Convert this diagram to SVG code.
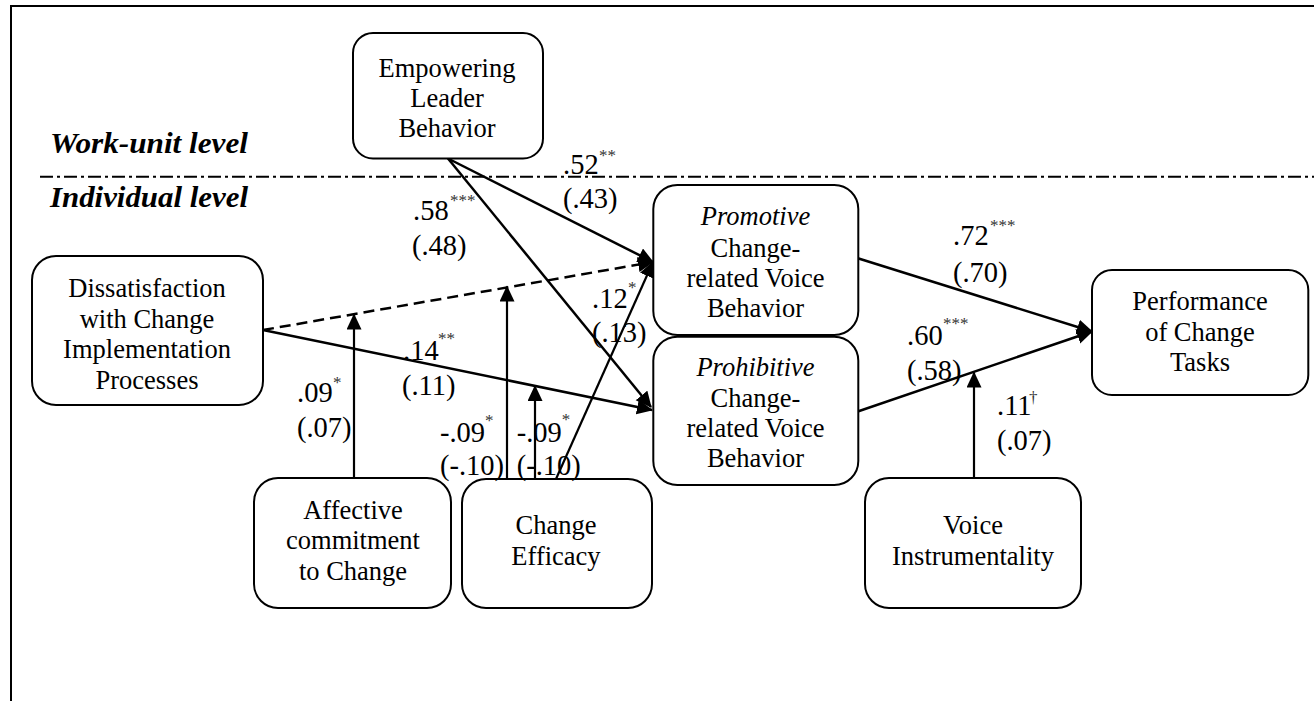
<svg xmlns="http://www.w3.org/2000/svg" width="1314" height="701" viewBox="0 0 1314 701">
<defs>
<style>
.box{fill:#fff;stroke:#000;stroke-width:2}
.nt{font-family:"Liberation Serif","Times New Roman",serif;font-size:26.5px;fill:#000;text-anchor:middle}
.it{font-style:italic}
.lv{font-family:"Liberation Serif","Times New Roman",serif;font-size:29px;font-weight:bold;font-style:italic;fill:#000}
.lb{font-family:"Liberation Serif","Times New Roman",serif;font-size:28.5px;fill:#000}
.sp{font-family:"Liberation Serif","Times New Roman",serif;font-size:17px;fill:#333}
.ln{stroke:#000;stroke-width:2.5;fill:none}
.vl{stroke:#000;stroke-width:2.2;fill:none}
</style>
<marker id="ah" markerUnits="userSpaceOnUse" markerWidth="18" markerHeight="16" refX="15" refY="7.5" orient="auto" viewBox="0 0 18 16">
<path d="M0,0 L16,7.5 L0,15 z" fill="#000"/>
</marker>
</defs>
<rect width="1314" height="701" fill="#fff"/>
<path d="M11,701 V6 H1314" fill="none" stroke="#000" stroke-width="2"/>
<line x1="40" y1="176.7" x2="1314" y2="176.7" stroke="#000" stroke-width="2" stroke-dasharray="13 4 3 4"/>
<text class="lv" x="50" y="153" textLength="198" lengthAdjust="spacingAndGlyphs">Work-unit level</text>
<text class="lv" x="50" y="207" textLength="198" lengthAdjust="spacingAndGlyphs">Individual level</text>

<g id="connectors">
<line class="ln" x1="448" y1="158.5" x2="653" y2="262" marker-end="url(#ah)"/>
<line class="ln" x1="448" y1="158.5" x2="651" y2="407" marker-end="url(#ah)"/>
<line class="ln" x1="263" y1="330" x2="653" y2="262" stroke-dasharray="11 6" marker-end="url(#ah)"/>
<line class="ln" x1="263" y1="330" x2="652" y2="410" marker-end="url(#ah)"/>
<line class="vl" x1="354" y1="478" x2="354" y2="314.5" marker-end="url(#ah)"/>
<line class="vl" x1="507" y1="479" x2="507" y2="286.5" marker-end="url(#ah)"/>
<line class="vl" x1="535" y1="479" x2="535" y2="386" marker-end="url(#ah)"/>
<line class="vl" x1="556" y1="479" x2="653" y2="262" marker-end="url(#ah)"/>
<line class="ln" x1="857" y1="258" x2="1092" y2="331.5" marker-end="url(#ah)"/>
<line class="ln" x1="857" y1="411.7" x2="1092" y2="331.5" marker-end="url(#ah)"/>
<line class="vl" x1="974" y1="478" x2="974" y2="372.5" marker-end="url(#ah)"/>
</g>

<g id="empowering">
<rect class="box" x="353" y="33" width="190" height="125.5" rx="20"/>
<text class="nt" x="447" y="76.7">Empowering</text>
<text class="nt" x="447" y="106.7">Leader</text>
<text class="nt" x="447" y="136.7">Behavior</text>
</g>
<g id="dissatisfaction">
<rect class="box" x="32" y="256" width="231" height="149" rx="24"/>
<text class="nt" x="147" y="297">Dissatisfaction</text>
<text class="nt" x="147" y="327.5">with Change</text>
<text class="nt" x="147" y="358">Implementation</text>
<text class="nt" x="147" y="388.5">Processes</text>
</g>
<g id="promotive">
<rect class="box" x="653.3" y="185" width="205" height="150" rx="24"/>
<text class="nt it" x="755.5" y="225">Promotive</text>
<text class="nt" x="755.5" y="256.5">Change-</text>
<text class="nt" x="755.5" y="287">related Voice</text>
<text class="nt" x="755.5" y="317">Behavior</text>
</g>
<g id="prohibitive">
<rect class="box" x="653.3" y="336.7" width="205" height="148.3" rx="24"/>
<text class="nt it" x="755.5" y="375.5">Prohibitive</text>
<text class="nt" x="755.5" y="406.5">Change-</text>
<text class="nt" x="755.5" y="436.7">related Voice</text>
<text class="nt" x="755.5" y="466.7">Behavior</text>
</g>
<g id="performance">
<rect class="box" x="1092" y="270" width="216.3" height="125" rx="20"/>
<text class="nt" x="1200" y="310">Performance</text>
<text class="nt" x="1200" y="340.5">of Change</text>
<text class="nt" x="1200" y="371">Tasks</text>
</g>
<g id="affective">
<rect class="box" x="254" y="478" width="197" height="130" rx="24"/>
<text class="nt" x="353" y="518.5">Affective</text>
<text class="nt" x="353" y="549">commitment</text>
<text class="nt" x="353" y="579.5">to Change</text>
</g>
<g id="efficacy">
<rect class="box" x="462" y="479" width="190" height="129" rx="24"/>
<text class="nt" x="556" y="534">Change</text>
<text class="nt" x="556" y="564.5">Efficacy</text>
</g>
<g id="instrumentality">
<rect class="box" x="865" y="478" width="216" height="130" rx="24"/>
<text class="nt" x="973" y="534">Voice</text>
<text class="nt" x="973" y="564.5">Instrumentality</text>
</g>

<g id="labels">
<text class="lb" x="563" y="174">.52</text><text class="sp" x="599" y="161">**</text>
<text class="lb" x="563" y="208">(.43)</text>
<text class="lb" x="413" y="220">.58</text><text class="sp" x="450" y="206">***</text>
<text class="lb" x="412" y="255">(.48)</text>
<text class="lb" x="953" y="245">.72</text><text class="sp" x="990" y="231">***</text>
<text class="lb" x="953" y="281.7">(.70)</text>
<text class="lb" x="907" y="345">.60</text><text class="sp" x="943" y="329">***</text>
<text class="lb" x="907" y="380">(.58)</text>
<text class="lb" x="403" y="360">.14</text><text class="sp" x="438" y="344">**</text>
<text class="lb" x="402" y="395">(.11)</text>
<text class="lb" x="297" y="401.7">.09</text><text class="sp" x="333" y="388">*</text>
<text class="lb" x="297" y="436.7">(.07)</text>
<text class="lb" x="440" y="441.7">-.09</text><text class="sp" x="485" y="426">*</text>
<text class="lb" x="440" y="475">(-.10)</text>
<text class="lb" x="516.7" y="441.7">-.09</text><text class="sp" x="561.7" y="425">*</text>
<text class="lb" x="516.7" y="475">(-.10)</text>
<text class="lb" x="592" y="308">.12</text><text class="sp" x="628" y="293">*</text>
<text class="lb" x="592" y="341.7">(.13)</text>
<text class="lb" x="997" y="415">.11</text><text class="sp" x="1029" y="403">†</text>
<text class="lb" x="997" y="450">(.07)</text>
</g>
</svg>
